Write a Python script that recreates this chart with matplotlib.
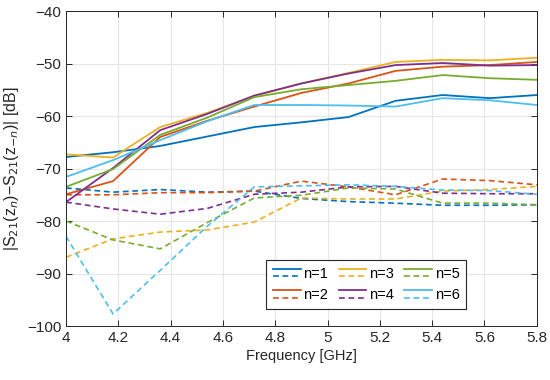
import matplotlib
matplotlib.use("Agg")
import matplotlib.pyplot as plt
from matplotlib.legend_handler import HandlerBase
from matplotlib.lines import Line2D

plt.rcParams['font.family'] = ['Liberation Sans', 'DejaVu Sans']

freq = [4.0, 4.18, 4.36, 4.54, 4.72, 4.9, 5.08, 5.26, 5.44, 5.62, 5.8]

solid_n1 = [-67.8, -66.9, -65.7, -63.9, -62.1, -61.2, -60.2, -57.1, -56.0, -56.6, -56.0]
solid_n2 = [-74.9, -72.4, -64.0, -60.9, -58.2, -55.6, -53.8, -51.4, -50.6, -50.3, -49.7]
solid_n3 = [-67.3, -67.9, -62.1, -59.4, -56.2, -53.8, -51.8, -49.7, -49.3, -49.4, -48.9]
solid_n4 = [-76.4, -69.9, -62.7, -59.6, -56.1, -53.8, -51.9, -50.3, -49.9, -50.4, -50.3]
solid_n5 = [-73.5, -70.1, -63.6, -60.3, -56.4, -54.9, -54.1, -53.3, -52.2, -52.8, -53.1]
solid_n6 = [-71.6, -68.4, -64.6, -61.0, -57.9, -57.9, -58.0, -58.2, -56.6, -57.0, -57.9]

dash_n1 = [-73.7, -74.5, -74.0, -74.5, -74.3, -75.7, -76.3, -76.6, -77.0, -77.0, -76.9]
dash_n2 = [-75.0, -75.0, -74.6, -74.6, -74.3, -72.4, -73.5, -75.0, -72.0, -72.3, -73.1]
dash_n3 = [-86.9, -83.4, -82.1, -81.7, -80.2, -75.6, -75.8, -75.8, -74.3, -74.0, -73.4]
dash_n4 = [-76.4, -77.7, -78.7, -77.6, -74.9, -74.5, -73.5, -73.4, -74.7, -74.8, -74.8]
dash_n5 = [-80.0, -83.6, -85.3, -80.3, -75.6, -75.1, -73.7, -73.9, -76.6, -76.6, -76.9]
dash_n6 = [-82.9, -97.7, -89.4, -81.0, -73.5, -73.3, -73.1, -73.4, -74.1, -74.2, -74.9]

labels = ['n=1', 'n=2', 'n=3', 'n=4', 'n=5', 'n=6']
colors = ['#0072BD', '#D95319', '#EDB120', '#7E2F8E', '#77AC30', '#4DBEEE']
solids = [solid_n1, solid_n2, solid_n3, solid_n4, solid_n5, solid_n6]
dashes = [dash_n1, dash_n2, dash_n3, dash_n4, dash_n5, dash_n6]

fig = plt.figure(figsize=(5.5, 3.8), dpi=100)
ax = fig.add_axes([0.12, 0.142, 0.856, 0.829])

DASH = (3.5, 2.2)
for s, d, c in zip(solids, dashes, colors):
    ax.plot(freq, s, color=c, lw=1.3)
    ax.plot(freq, d, color=c, lw=1.2, linestyle=(0, DASH))


class ColorKey:
    def __init__(self, c):
        self.c = c


class PairHandler(HandlerBase):
    def create_artists(self, legend, orig_handle, xdescent, ydescent,
                       width, height, fontsize, trans):
        c = orig_handle.c
        y1 = height * 0.85 - ydescent
        y2 = height * 0.15 - ydescent
        l1 = Line2D([-xdescent, width - xdescent], [y1, y1], color=c, lw=1.3, transform=trans)
        l2 = Line2D([-xdescent, width - xdescent], [y2, y2], color=c, lw=1.2,
                    linestyle=(0, DASH), transform=trans)
        return [l1, l2]


keys = [ColorKey(c) for c in colors]

leg = ax.legend(keys, labels, handler_map={ColorKey: PairHandler()}, ncol=3,
                loc='upper left', bbox_to_anchor=(0.41, 0.232), fontsize=10.5,
                frameon=True, fancybox=False, edgecolor='#262626', framealpha=1,
                handlelength=1.9, handletextpad=0.2, columnspacing=0.7,
                labelspacing=0.5, borderpad=0.45)
leg.get_frame().set_linewidth(0.8)

ax.set_xlim(4, 5.8)
ax.set_ylim(-100, -40)
ax.set_xticks([4, 4.2, 4.4, 4.6, 4.8, 5, 5.2, 5.4, 5.6, 5.8])
ax.set_xticklabels(['4', '4.2', '4.4', '4.6', '4.8', '5', '5.2', '5.4', '5.6', '5.8'])
ax.set_yticks(range(-100, -39, 10))
ax.set_yticklabels(['\u2212100', '\u221290', '\u221280', '\u221270', '\u221260', '\u221250', '\u221240'])
ax.grid(True, color='#e6e6e6', lw=0.8)
ax.set_axisbelow(True)
ax.tick_params(direction='in', top=True, right=True, labelsize=11, colors='#262626',
               length=4, width=0.7)
for sp in ax.spines.values():
    sp.set_color('#262626')
    sp.set_linewidth(0.7)
ax.set_xlabel('Frequency [GHz]', fontsize=10.5, color='#262626', labelpad=3)
ax.set_ylabel('|S$_{21}$(z$_n$)\u2212S$_{21}$(z$_{-n}$)| [dB]', fontsize=11.5,
              color='#262626', labelpad=4)

fig.savefig('out.png', dpi=100)
